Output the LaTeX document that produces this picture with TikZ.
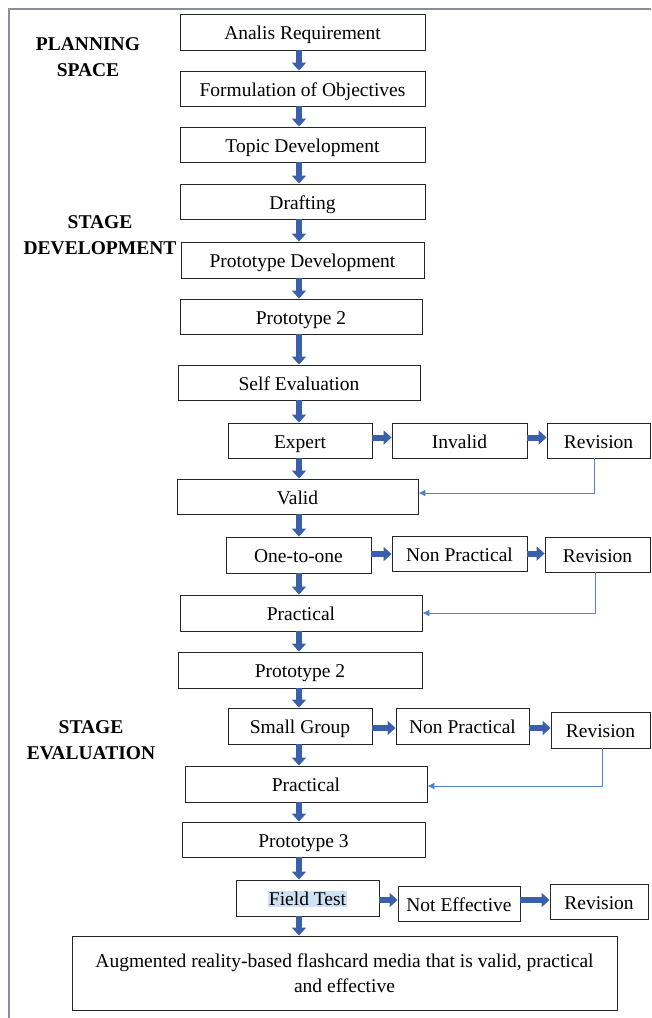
\documentclass[tikz,border=0pt]{standalone}
\usepackage{fontspec}
\setmainfont{Liberation Serif}
\usetikzlibrary{arrows.meta}
\definecolor{arrowblue}{RGB}{58,96,172}
\definecolor{fbblue}{RGB}{84,128,204}
\definecolor{hl}{RGB}{206,226,246}
\definecolor{framegray}{RGB}{140,142,150}
\begin{document}
\begin{tikzpicture}[x=1pt,y=-1pt,
  box/.style={draw=black!85, line width=0.9pt, fill=white, inner sep=0pt, align=center,
    font=\fontsize{19.5}{25}\selectfont},
  boxt/.style={box, text height=17pt, text depth=2pt},
  lbl/.style={font=\bfseries\fontsize{19.5}{26}\selectfont, align=center, inner sep=0pt},
  barrow/.style={draw=arrowblue, line width=6pt, -{Triangle[width=14pt,length=8pt]}},
  fb/.style={draw=fbblue, line width=0.9pt, -{Latex[length=7pt,width=7pt]}}
]
\useasboundingbox (0,0) rectangle (651,1018);
\draw[framegray, line width=1.6pt] (9,1018) -- (9,9) -- (651,9);

% labels
\node[lbl] (lplan) at (88,57) {PLANNING\\SPACE};
\node[lbl] (ldev) at (100,235) {STAGE\\DEVELOPMENT};
\node[lbl] (leval) at (91,740) {STAGE\\EVALUATION};

% main column
\node[boxt, minimum width=245, minimum height=36] (n1) at (302.5,32) {Analis Requirement};
\node[boxt, minimum width=245, minimum height=35] (n2) at (302.5,88.5) {Formulation of Objectives};
\node[boxt, minimum width=245, minimum height=35] (n3) at (302.5,144.5) {Topic Development};
\node[boxt, minimum width=245, minimum height=35] (n4) at (302.5,201.5) {Drafting};
\node[boxt, minimum width=243, minimum height=36] (n5) at (302.5,260) {Prototype Development};
\node[boxt, minimum width=242, minimum height=35] (n6) at (301,316.5) {Prototype 2};
\node[boxt, minimum width=242, minimum height=35] (n7) at (299,382.5) {Self Evaluation};
\node[boxt, minimum width=144, minimum height=35] (n8) at (300,440.5) {Expert};
\node[boxt, minimum width=135, minimum height=35] (n8b) at (459.5,440.5) {Invalid};
\node[boxt, minimum width=103, minimum height=35] (n8c) at (598.5,440.5) {Revision};
\node[boxt, minimum width=241, minimum height=35] (n9) at (297.5,496.5) {Valid};
\node[boxt, minimum width=145, minimum height=36] (n10) at (298.5,555) {One-to-one};
\node[boxt, minimum width=135, minimum height=35] (n10b) at (459.5,553.5) {Non Practical};
\node[boxt, minimum width=105, minimum height=35] (n10c) at (597.5,554.5) {Revision};
\node[boxt, minimum width=242, minimum height=36] (n11) at (301,613) {Practical};
\node[boxt, minimum width=244, minimum height=36] (n12) at (300,670) {Prototype 2};
\node[boxt, minimum width=144, minimum height=36] (n13) at (300,726) {Small Group};
\node[boxt, minimum width=133, minimum height=36] (n13b) at (462.5,726) {Non Practical};
\node[boxt, minimum width=99, minimum height=36] (n13c) at (600.5,730) {Revision};
\node[boxt, minimum width=242, minimum height=36] (n14) at (306,784) {Practical};
\node[boxt, minimum width=243, minimum height=35] (n15) at (303.5,839.5) {Prototype 3};
\node[boxt, minimum width=143, minimum height=36] (n16) at (307.5,898) {{\fboxsep=1pt\colorbox{hl}{Field Test}}};
\node[boxt, minimum width=122, minimum height=35] (n16b) at (459,903.5) {Not Effective};
\node[boxt, minimum width=98, minimum height=35] (n16c) at (599,901.5) {Revision};
\node[box, minimum width=545, minimum height=74] (n17) at (344.5,973) {Augmented reality-based flashcard media that is valid, practical\\and effective};

% vertical arrow axis
\coordinate (ax) at (299,0);
\foreach \a/\b in {n1/n2,n2/n3,n3/n4,n4/n5,n5/n6,n6/n7,n7/n8,n8/n9,n9/n10,n10/n11,n11/n12,n12/n13,n13/n14,n14/n15,n15/n16,n16/n17}
  \draw[barrow] (\a.south -| ax) -- (\b.north -| ax);

% horizontal arrows
\draw[barrow] ([yshift=3pt]n8.east) -- ([yshift=3pt]n8.east -| n8b.west);
\draw[barrow] ([yshift=3pt]n8b.east) -- ([yshift=3pt]n8b.east -| n8c.west);
\draw[barrow] ([yshift=1pt]n10.east) -- ([yshift=1pt]n10.east -| n10b.west);
\draw[barrow] ([yshift=0pt]n10b.east) -- ([yshift=0pt]n10b.east -| n10c.west);
\draw[barrow] ([yshift=-2pt]n13.east) -- ([yshift=-2pt]n13.east -| n13b.west);
\draw[barrow] ([yshift=-2pt]n13b.east) -- ([yshift=-2pt]n13b.east -| n13c.west);
\draw[barrow] ([yshift=-2pt]n16.east) -- ([yshift=-2pt]n16.east -| n16b.west);
\draw[barrow] ([yshift=3.5pt]n16b.east) -- ([yshift=3.5pt]n16b.east -| n16c.west);

% feedback lines
\draw[fb] ([xshift=-4.5pt]n8c.south) |- ([yshift=3.5pt]n9.east);
\draw[fb] ([xshift=-2.5pt]n10c.south) |- (n11.east);
\draw[fb] ([xshift=1.5pt]n13c.south) |- ([yshift=-2pt]n14.east);
\end{tikzpicture}
\end{document}
